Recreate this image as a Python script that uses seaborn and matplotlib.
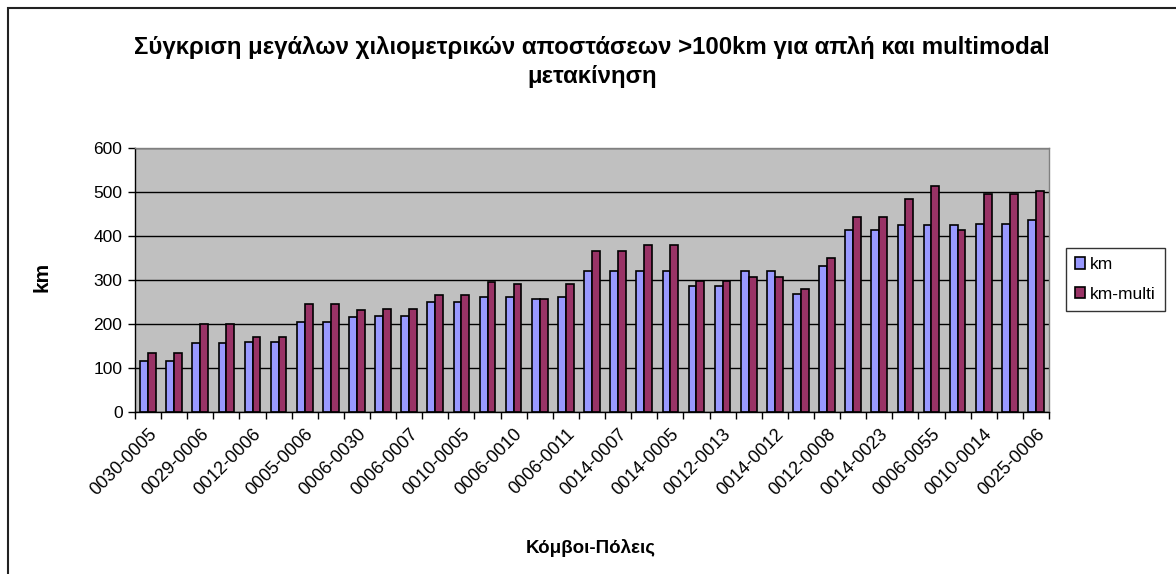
import numpy as np
import pandas as pd
import seaborn as sns
import matplotlib.pyplot as plt
from matplotlib.patches import Rectangle

# Route labels shown on the axis (every other route pair)
tick_labels = [
    "0030-0005", "0029-0006", "0012-0006", "0005-0006", "0006-0030",
    "0006-0007", "0010-0005", "0006-0010", "0006-0011", "0014-0007",
    "0014-0005", "0012-0013", "0014-0012", "0012-0008", "0014-0023",
    "0006-0055", "0010-0014", "0025-0006",
]

# Distances per route pair (35 pairs)
km = [115, 115, 157, 157, 160, 160, 205, 205, 216, 219, 219,
      250, 250, 261, 261, 256, 261, 320, 320, 320, 320, 287,
      287, 320, 320, 268, 331, 414, 414, 424, 424, 424, 428,
      428, 436]
km_multi = [134, 134, 201, 201, 171, 171, 246, 246, 231, 234, 234,
            265, 265, 295, 291, 256, 291, 365, 365, 380, 380, 298,
            298, 306, 306, 279, 350, 443, 443, 484, 514, 414, 496,
            496, 503]
series_names = ["km", "km-multi"]
series_colors = ["#9999FF", "#993366"]

title = ("Σύγκριση μεγάλων χιλιομετρικών αποστάσεων >100km για απλή και multimodal\n"
         "μετακίνηση")
xlabel = "Κόμβοι-Πόλεις"
ylabel = "km"

sns.set_theme(style="white")
plt.rcParams['font.family'] = ['Liberation Sans', 'DejaVu Sans']
plt.rcParams['text.color'] = 'black'
plt.rcParams['xtick.color'] = 'black'
plt.rcParams['ytick.color'] = 'black'
plt.rcParams['axes.labelcolor'] = 'black'

n = len(km)
df = pd.DataFrame({
    "pair": list(range(n)) * 2,
    "value": km + km_multi,
    "series": [series_names[0]] * n + [series_names[1]] * n,
})

fig = plt.figure(figsize=(11.76, 5.74), dpi=100)
ax = fig.add_axes([135 / 1176, 1 - 412 / 574, (1049 - 135) / 1176, (412 - 148) / 574])

sns.barplot(data=df, x="pair", y="value", hue="series", palette=series_colors,
            width=0.6, saturation=1, edgecolor="black", linewidth=1.2, ax=ax)

ax.set_facecolor("#C0C0C0")
ax.set_ylim(0, 600)
ax.set_xlim(-0.5, n - 0.5)
ax.set_yticks(np.arange(0, 601, 100))
ax.yaxis.grid(True, color="black", linewidth=1)
ax.set_axisbelow(True)

# Tick marks between categories, labels under every other category
ax.set_xticks(np.arange(-0.5, n, 1))
ax.set_xticklabels([])
ax.set_xticks(np.arange(0, n, 2), minor=True)
ax.set_xticklabels(tick_labels, minor=True, rotation=45, ha="right",
                   va="top", rotation_mode="anchor", fontsize=13)
ax.tick_params(axis="x", which="major", length=5, width=1, color="black",
               direction="out", bottom=True)
ax.tick_params(axis="x", which="minor", length=0, pad=10)
ax.tick_params(axis="y", length=5, width=1, color="black", direction="out",
               left=True, labelsize=12.5, pad=4)

for side in ["left", "bottom"]:
    ax.spines[side].set_color("black")
    ax.spines[side].set_linewidth(1)
for side in ["top", "right"]:
    ax.spines[side].set_color("#808080")
    ax.spines[side].set_linewidth(1)

ax.set_xlabel("")
ax.set_ylabel("")
fig.text(42 / 1176, 1 - 277 / 574, ylabel, rotation=90, ha="center",
         va="center", fontsize=15, fontweight="bold")
fig.text(591 / 1176, 1 - 548 / 574, xlabel, ha="center", va="center",
         fontsize=13.5, fontweight="bold")
fig.text(592 / 1176, 1 - 62 / 574, title, ha="center", va="center",
         fontsize=17.3, fontweight="bold", linespacing=1.28)

handles, labels = ax.get_legend_handles_labels()
ax.legend_.remove()
leg = fig.legend(handles, labels, loc="center left",
                 bbox_to_anchor=(1066 / 1176, 1 - 279.5 / 574),
                 bbox_transform=fig.transFigure, frameon=True, fancybox=False,
                 edgecolor="black", fontsize=12.5, handlelength=0.6,
                 handleheight=0.6, handletextpad=0.3, borderpad=0.5,
                 labelspacing=0.85, borderaxespad=0)
leg.get_frame().set_linewidth(1)

# Chart area border
fig.patches.append(Rectangle((8 / 1176, -0.1), 1.2, 1.1 - 8 / 574,
                             transform=fig.transFigure, fill=False,
                             edgecolor="#222222", linewidth=1.5))

fig.savefig("out.png", dpi=100, facecolor="white")
